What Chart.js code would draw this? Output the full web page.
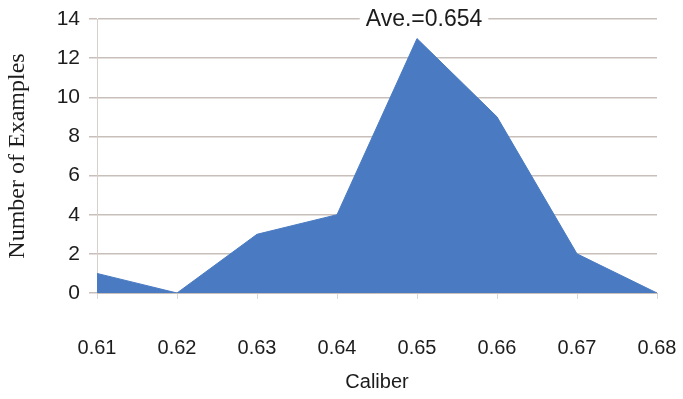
<!DOCTYPE html>
<html>
<head>
<meta charset="utf-8">
<script src="https://cdn.jsdelivr.net/npm/chart.js@4"></script>
<style>
  html, body { margin: 0; padding: 0; background: #fff; }
  #wrap { width: 683px; height: 399px; }
</style>
</head>
<body>
<div id="wrap"><canvas id="chart"></canvas></div>
<script>
// Data
const calibers = ['0.61', '0.62', '0.63', '0.64', '0.65', '0.66', '0.67', '0.68'];
const counts = [1, 0, 3, 4, 13, 9, 2, 0];
const yTicks = [0, 2, 4, 6, 8, 10, 12, 14];
const aveLabel = 'Ave.=0.654';

const FILL = '#4a7bc2';
const GRID = '#c8bfbb';
const TEXT = '#1c1c1c';

// Label sitting on the top grid line, with a white box behind it
const avePlugin = {
    id: 'aveLabel',
    afterDraw(chart) {
        const { ctx, chartArea, scales } = chart;
        const x = chartArea.left + (chartArea.right - chartArea.left) * 0.584;
        const y = scales.y.getPixelForValue(14);
        ctx.save();
        ctx.font = '23px "Liberation Sans", Arial, sans-serif';
        const w = ctx.measureText(aveLabel).width;
        ctx.fillStyle = '#fff';
        ctx.fillRect(x - w / 2 - 6, y - 12, w + 12, 24);
        ctx.fillStyle = TEXT;
        ctx.textAlign = 'center';
        ctx.textBaseline = 'middle';
        ctx.fillText(aveLabel, x, y + 1);
        ctx.restore();
    }
};

new Chart(document.getElementById('chart').getContext('2d'), {
    type: 'line',
    data: {
        labels: calibers,
        datasets: [{
            data: counts,
            backgroundColor: FILL,
            borderColor: FILL,
            borderWidth: 1,
            fill: 'origin',
            pointRadius: 0,
            tension: 0
        }]
    },
    options: {
        responsive: true,
        maintainAspectRatio: false,
        animation: false,
        layout: { padding: { left: 0, right: 26, top: 19, bottom: 1 } },
        plugins: {
            legend: { display: false },
            tooltip: { enabled: false }
        },
        scales: {
            x: {
                offset: false,
                afterFit(scale) {
                    scale.height = 105;
                    scale.paddingLeft = 0;
                    scale.paddingRight = 0;
                },
                grid: {
                    drawOnChartArea: false,
                    drawTicks: true,
                    tickLength: 6,
                    color: '#ddd6d2'
                },
                border: { display: true, color: GRID },
                ticks: {
                    padding: 37,
                    color: TEXT,
                    maxRotation: 0,
                    autoSkip: false,
                    font: { family: '"Liberation Sans", Arial, sans-serif', size: 20 }
                },
                title: {
                    display: true,
                    text: 'Caliber',
                    color: TEXT,
                    padding: { top: 8, bottom: 4 },
                    font: { family: '"Liberation Sans", Arial, sans-serif', size: 20 }
                }
            },
            y: {
                min: 0,
                max: 14,
                afterBuildTicks(scale) {
                    scale.ticks = yTicks.map(v => ({ value: v }));
                },
                afterFit(scale) {
                    scale.width = 97;
                    scale.paddingTop = 0;
                    scale.paddingBottom = 0;
                },
                grid: {
                    color: GRID,
                    lineWidth: 1.5,
                    drawTicks: true,
                    tickLength: 8
                },
                border: { display: true, color: '#d6cfcb' },
                ticks: {
                    padding: 9,
                    color: TEXT,
                    font: { family: '"Liberation Sans", Arial, sans-serif', size: 21 }
                },
                title: {
                    display: true,
                    text: 'Number of Examples',
                    color: TEXT,
                    padding: { top: 3, bottom: 0 },
                    font: { family: '"Liberation Serif", "Times New Roman", serif', size: 24 }
                }
            }
        }
    },
    plugins: [avePlugin]
});
</script>
</body>
</html>
